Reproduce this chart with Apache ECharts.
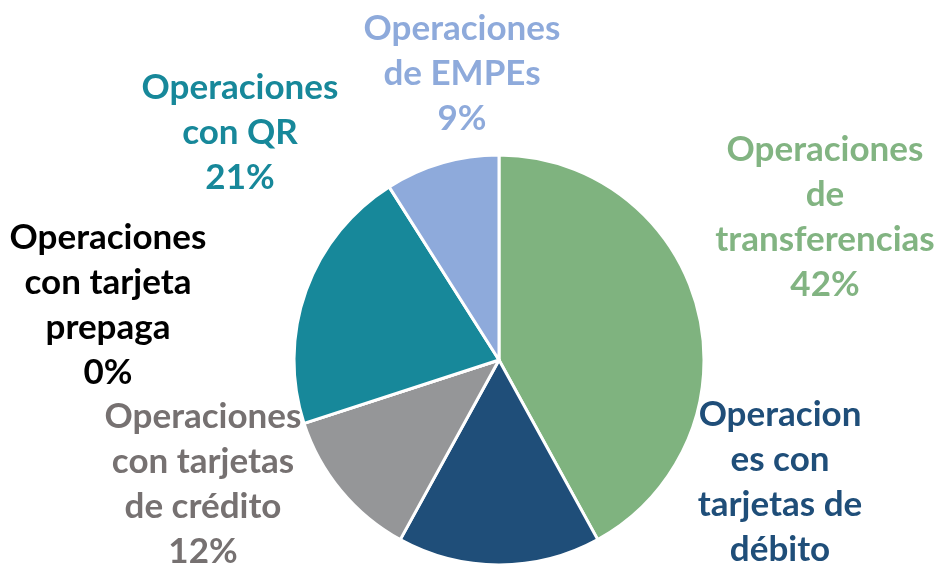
<!DOCTYPE html>
<html>
<head>
<meta charset="utf-8">
<script src="https://cdn.jsdelivr.net/npm/echarts@6/dist/echarts.min.js"></script>
<style>
html,body{margin:0;padding:0;background:#fff;}
#main{width:940px;height:568px;}
</style>
</head>
<body>
<div id="main"></div>
<script>
// datos del gráfico (sentido horario desde arriba)
var categories = [
    'Operaciones\nde\ntransferencias',
    'Operacion\nes con\ntarjetas de\ndébito',
    'Operaciones\ncon tarjetas\nde crédito',
    'Operaciones\ncon tarjeta\nprepaga',
    'Operaciones\ncon QR',
    'Operaciones\nde EMPEs'
];
var values = [42, 16, 12, 0, 21, 9];
var sliceColors = ['#7fb37f', '#1f4e79', '#959698', '#000000', '#17889a', '#8eaadb'];
var labelColors = ['#82b482', '#1f4e79', '#767171', '#000000', '#17889a', '#8eaadb'];
// centro de cada etiqueta
var labelPos = [[825, 217], [780, 505], [203, 484], [108, 305], [240, 133], [462, 74]];

var myChart = echarts.init(document.getElementById('main'));

var pieData = [];
for (var i = 0; i < values.length; i++) {
    pieData.push({
        name: categories[i],
        value: values[i],
        itemStyle: {color: sliceColors[i]},
        label: {color: labelColors[i]}
    });
}

var option = {
    animation: false,
    series: [{
        type: 'pie',
        center: [499, 360],
        radius: 205,
        startAngle: 90,
        clockwise: true,
        avoidLabelOverlap: false,
        itemStyle: {borderColor: '#fff', borderWidth: 3},
        label: {
            show: true,
            position: 'outside',
            fontFamily: 'Lato',
            fontWeight: 'bold',
            fontSize: 35,
            lineHeight: 45,
            align: 'center',
            formatter: function (p) {
                return p.name + '\n' + p.value + '%';
            }
        },
        labelLine: {show: false},
        labelLayout: function (p) {
            var pos = labelPos[p.dataIndex];
            return {x: pos[0], y: pos[1], align: 'center', verticalAlign: 'middle'};
        },
        data: pieData
    }]
};

myChart.setOption(option);
</script>
</body>
</html>
